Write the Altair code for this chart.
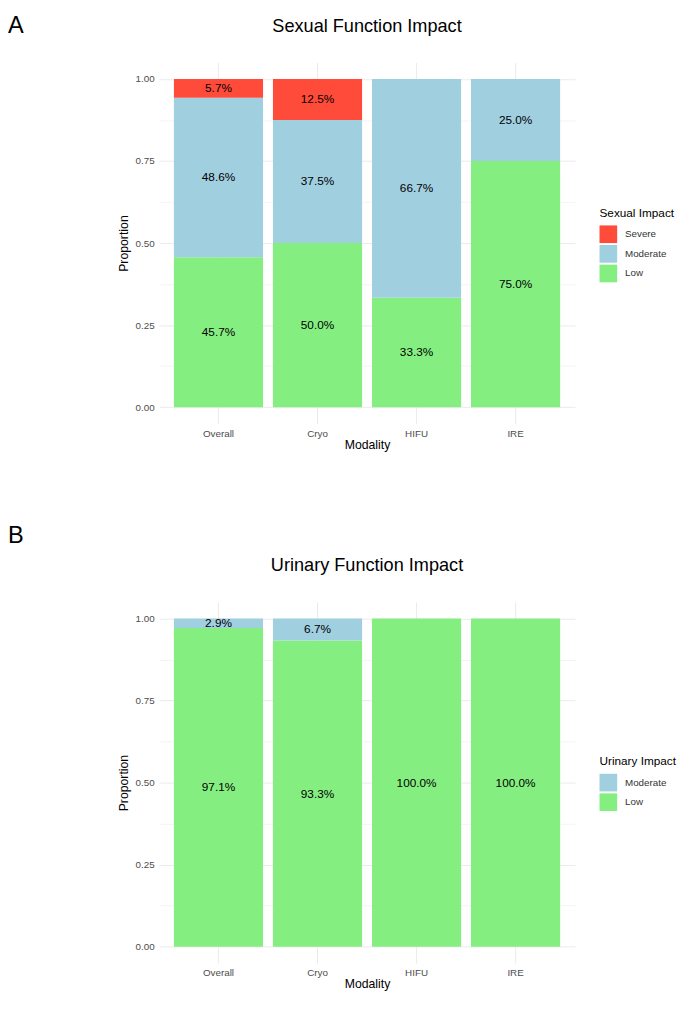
import altair as alt
import pandas as pd

modalities = ["Overall", "Cryo", "HIFU", "IRE"]

# Sexual function impact (percent of patients)
sexual_levels = ["Severe", "Moderate", "Low"]
sexual_low = [45.7, 50.0, 33.3, 75.0]
sexual_moderate = [48.6, 37.5, 66.7, 25.0]
sexual_severe = [5.7, 12.5, 0.0, 0.0]
sexual_colors = ["#FF4B3A", "#A0CFE0", "#85EE80"]

# Urinary function impact (percent of patients)
urinary_levels = ["Moderate", "Low"]
urinary_low = [97.1, 93.3, 100.0, 100.0]
urinary_moderate = [2.9, 6.7, 0.0, 0.0]
urinary_colors = ["#A0CFE0", "#85EE80"]

FONT = "Liberation Sans, Arial, sans-serif"
TFONT = "Liberation Sans, Arial, sans-serif"


def make_df(series):
    rows = []
    for level, rank, vals in series:
        for m, v in zip(modalities, vals):
            if v > 0:
                rows.append({"Modality": m, "level": level, "rank": rank, "prop": v / 100.0})
    return pd.DataFrame(rows)


sexual_df = make_df([("Low", 0, sexual_low), ("Moderate", 1, sexual_moderate), ("Severe", 2, sexual_severe)])
urinary_df = make_df([("Low", 0, urinary_low), ("Moderate", 1, urinary_moderate)])

y_values = [0, 0.125, 0.25, 0.375, 0.5, 0.625, 0.75, 0.875, 1.0]

x_axis = alt.Axis(
    title="Modality", labelAngle=0, tickSize=0, domain=False, grid=True,
    gridColor="#EBEBEB", bandPosition=0.5, labelFontSize=10, labelColor="#4D4D4D",
    labelFont=FONT, labelPadding=5, titleFont=FONT, titleFontSize=12.5,
    titleFontWeight="normal", titleColor="black", titlePadding=0,
)
y_axis = alt.Axis(
    title="Proportion", values=y_values,
    labelExpr="datum.value * 4 % 1 == 0 ? format(datum.value, '.2f') : ''",
    tickSize=0, domain=False, labelOverlap=False,
    gridColor={"condition": {"test": "datum.value * 4 % 1 != 0", "value": "#F4F4F4"}, "value": "#EBEBEB"},
    labelFontSize=10, labelColor="#4D4D4D", labelFont=FONT, labelPadding=5,
    titleFont=FONT, titleFontSize=12.5, titleFontWeight="normal",
    titleColor="black", titlePadding=5,
)
x_scale = alt.Scale(paddingInner=0.1, paddingOuter=0.15)
y_scale = alt.Scale(domain=[-0.05, 1.05], nice=False, zero=False)

PLOT_W = 424
PLOT_H = 368


def panel(df, title, letter, legend_title, domain, colors, legend_y, title_y, letter_y):
    base = alt.Chart(df)
    bars = base.mark_bar().encode(
        x=alt.X("Modality:N", sort=modalities, scale=x_scale, axis=x_axis),
        y=alt.Y("prop:Q", stack="zero", scale=y_scale, axis=y_axis),
        color=alt.Color(
            "level:N",
            scale=alt.Scale(domain=domain, range=colors),
            legend=alt.Legend(
                title=legend_title, orient="none", legendX=449, legendY=legend_y,
                symbolType="square", symbolSize=324, symbolStrokeWidth=0, symbolOpacity=1,
                titleFont=FONT, titleFontSize=12, titleFontWeight="normal", titleColor="black",
                labelFont=FONT, labelFontSize=10, labelColor="#333333", labelOffset=8,
                rowPadding=2, titlePadding=6,
            ),
        ),
        order=alt.Order("rank:Q", sort="ascending"),
    )
    labels = (
        base.transform_stack(
            stack="prop", groupby=["Modality"],
            sort=[alt.SortField("rank", order="ascending")], as_=["y0", "y1"],
        )
        .transform_calculate(mid="(datum.y0 + datum.y1) / 2")
        .mark_text(font=FONT, fontSize=12, color="black")
        .encode(
            x=alt.X("Modality:N", sort=modalities, scale=x_scale, axis=x_axis),
            y=alt.Y("mid:Q", scale=y_scale, axis=y_axis),
            text=alt.Text("prop:Q", format=".1%"),
        )
    )
    letter_layer = (
        alt.Chart(pd.DataFrame({"t": [letter]}))
        .mark_text(align="left", baseline="alphabetic", font=TFONT, fontSize=24, color="black")
        .encode(text="t:N", x=alt.value(-154), y=alt.value(letter_y))
    )
    title_layer = (
        alt.Chart(pd.DataFrame({"t": [title]}))
        .mark_text(align="center", baseline="alphabetic", font=TFONT, fontSize=18.5, color="black")
        .encode(text="t:N", x=alt.value(PLOT_W / 2), y=alt.value(title_y))
    )
    return alt.layer(bars, labels, letter_layer, title_layer).properties(width=PLOT_W, height=PLOT_H)


panel_a = panel(sexual_df, "Sexual Function Impact", "A", "Sexual Impact",
                sexual_levels, sexual_colors, 148, -31, -30)
panel_b = panel(urinary_df, "Urinary Function Impact", "B", "Urinary Impact",
                urinary_levels, urinary_colors, 157, -32, -60)

chart = (
    alt.vconcat(panel_a, panel_b, spacing=75)
    .resolve_scale(color="independent")
    .properties(padding={"top": -3, "left": 0, "right": 0, "bottom": 0})
    .configure_view(strokeWidth=0)
)

chart.save("out.html", embed_options={"renderer": "svg", "actions": False})
